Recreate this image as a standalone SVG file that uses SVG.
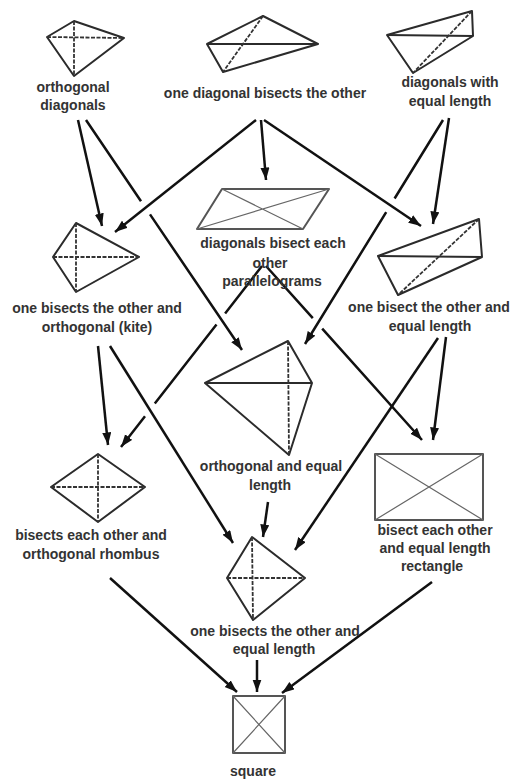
<svg xmlns="http://www.w3.org/2000/svg" width="513" height="779" viewBox="0 0 513 779">
<defs>
<marker id="ah" markerUnits="userSpaceOnUse" markerWidth="13" markerHeight="10" refX="12.5" refY="4.5" orient="auto">
<path d="M0,0 L12.5,4.5 L0,9 z" fill="#111"/>
</marker>
<style>
.lbl{font-family:"Liberation Sans",Arial,sans-serif;font-weight:bold;font-size:14px;fill:#333;text-anchor:middle}
.shape{fill:none;stroke:#2b2b2b;stroke-width:2;stroke-linejoin:round}
.gshape{fill:none;stroke:#555;stroke-width:2;stroke-linejoin:round}
.diag{fill:none;stroke:#333;stroke-width:1.8;stroke-dasharray:4 1.5}
.thin{fill:none;stroke:#666;stroke-width:1.2}
.conn{fill:none;stroke:#111;stroke-width:2.5;marker-end:url(#ah)}
</style>
</defs>
<rect width="513" height="779" fill="#fff"/>

<g id="connectors">
<path class="conn" d="M78,120 L102,226"/>
<path class="conn" d="M86,120 L141,201.2 M150,214.4 L242,350"/>
<path class="conn" d="M256,120 L115,232"/>
<path class="conn" d="M261,120 L266,180"/>
<path class="conn" d="M264,120 L421,226"/>
<path class="conn" d="M443,120 L394.6,198.5 M386.2,212.1 L305,344"/>
<path class="conn" d="M449,118 L433,224"/>
<path class="conn" d="M98,346 L108,445"/>
<path class="conn" d="M110,346 L233,543"/>
<path class="conn" d="M262,266 L225.1,313.4 M216.5,324.4 L154.8,403.6 M145,416.2 L121,447"/>
<path class="conn" d="M266,266 L312.8,318.2 M322.2,328.6 L422,440"/>
<path class="conn" d="M438,338 L295,550"/>
<path class="conn" d="M446,337 L433,440"/>
<path class="conn" d="M268,502 L263,537"/>
<path class="conn" d="M110,578 L237,692"/>
<path class="conn" d="M257,660 L257,692"/>
<path class="conn" d="M432,582 L282,693"/>
</g>

<g id="orthogonal-diagonals">
<path class="shape" d="M74,21 L124,38 L74,76 L47,37 z"/>
<path class="diag" d="M74,21 L74,76 M47,37 L124,38"/>
<text class="lbl" x="73" y="92">orthogonal</text>
<text class="lbl" x="73" y="110">diagonals</text>
</g>

<g id="one-diagonal-bisects">
<path class="shape" d="M263,16 L318,44 L223,72 L207,44 z"/>
<path class="shape" d="M207,44 L318,44"/>
<path class="diag" d="M263,16 L223,72"/>
<text class="lbl" x="265" y="98">one diagonal bisects the other</text>
</g>

<g id="diagonals-equal-length">
<path class="shape" d="M387,35 L472,11 L473,36 L413,73 z"/>
<path class="shape" d="M387,35 L473,36"/>
<path class="diag" d="M472,11 L413,73"/>
<text class="lbl" x="450" y="87">diagonals with</text>
<text class="lbl" x="450" y="106">equal length</text>
</g>

<g id="kite">
<path class="shape" d="M76,223 L139,257 L76,292 L53,257 z"/>
<path class="diag" d="M76,223 L76,292 M53,257 L139,257"/>
<text class="lbl" x="97" y="313">one bisects the other and</text>
<text class="lbl" x="97" y="332">orthogonal (kite)</text>
</g>

<g id="parallelogram">
<path class="gshape" d="M222,189 L329,189 L303,229 L197,229 z"/>
<path class="thin" d="M222,189 L303,229 M329,189 L197,229"/>
<text class="lbl" x="273" y="248">diagonals bisect each</text>
<text class="lbl" x="270" y="268">other</text>
<text class="lbl" x="272" y="286">parallelograms</text>
</g>

<g id="bisect-equal-length">
<path class="shape" d="M378,256 L479,219 L482,257 L398,295 z"/>
<path class="shape" d="M378,256 L482,257"/>
<path class="diag" d="M479,219 L398,295"/>
<text class="lbl" x="429" y="312">one bisect the other and</text>
<text class="lbl" x="430" y="331">equal length</text>
</g>

<g id="orthogonal-equal-length">
<path class="shape" d="M288,341 L312,383 L289,455 L205,383 z"/>
<path class="shape" d="M205,383 L312,383"/>
<path class="diag" d="M288,341 L289,455"/>
<text class="lbl" x="271" y="471">orthogonal and equal</text>
<text class="lbl" x="270" y="490">length</text>
</g>

<g id="rhombus">
<path class="shape" d="M98,454 L145,487 L98,522 L51,487 z"/>
<path class="diag" d="M98,454 L98,522 M51,487 L145,487"/>
<text class="lbl" x="91" y="540">bisects each other and</text>
<text class="lbl" x="91" y="559">orthogonal rhombus</text>
</g>

<g id="rectangle">
<rect class="gshape" x="375" y="454" width="108" height="66"/>
<path class="thin" d="M375,454 L483,520 M483,454 L375,520"/>
<text class="lbl" x="435" y="535">bisect each other</text>
<text class="lbl" x="435" y="553">and equal length</text>
<text class="lbl" x="432" y="571">rectangle</text>
</g>

<g id="one-bisects-equal-length">
<path class="shape" d="M252,537 L305,578 L253,620 L227,578 z"/>
<path class="diag" d="M252,537 L253,620 M227,578 L305,578"/>
<text class="lbl" x="275" y="636">one bisects the other and</text>
<text class="lbl" x="274" y="654">equal length</text>
</g>

<g id="square">
<rect class="gshape" x="233" y="696" width="52" height="57"/>
<path class="thin" d="M233,696 L285,753 M285,696 L233,753"/>
<text class="lbl" x="253" y="776">square</text>
</g>
</svg>
